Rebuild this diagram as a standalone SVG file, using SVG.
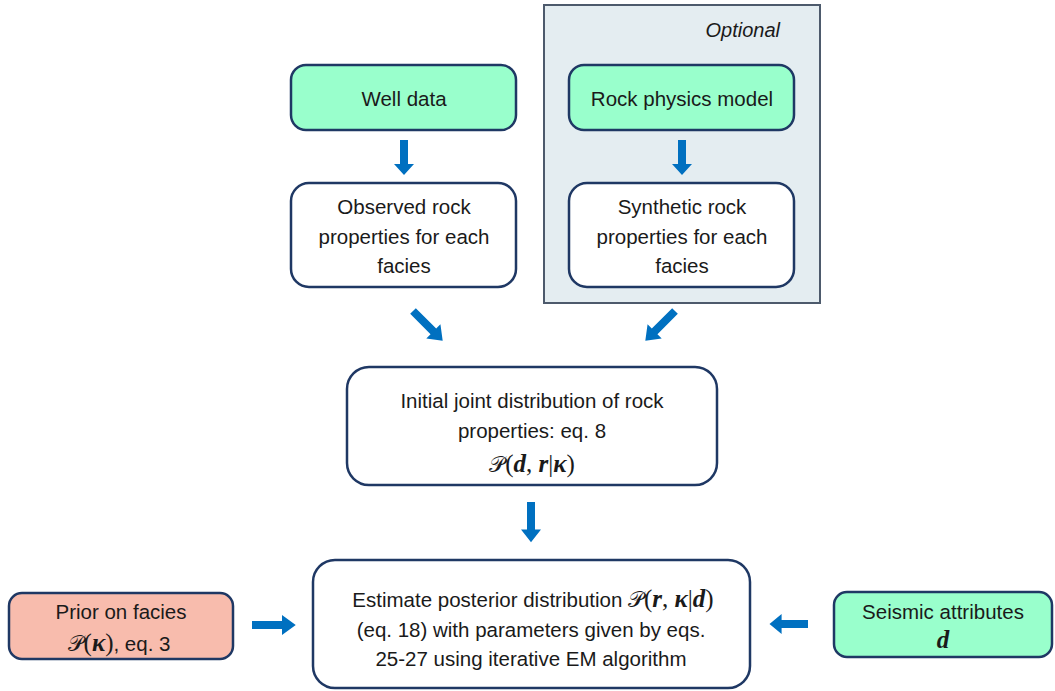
<svg xmlns="http://www.w3.org/2000/svg" width="1055" height="691" viewBox="0 0 1055 691">
<defs>
<style>
.box{stroke:#1f3864;stroke-width:2.5}
.green{fill:#99ffcc}
.white{fill:#ffffff}
.pink{fill:#f8bcad}
.t{font-family:"Liberation Sans",Arial,sans-serif;font-size:20.5px;fill:#1a1a1a;text-anchor:middle}
.m{font-family:"Liberation Serif","Times New Roman",serif;font-weight:bold;font-style:italic;font-size:25px}
.p{font-family:"Liberation Serif","Times New Roman",serif;font-size:25px}
.s{font-family:"DejaVu Serif","Noto Sans",serif;font-size:22px}
.arr{fill:#0070c0}
</style>
<path id="down" d="M-4,0 H4 V24 H10 L0,35 L-10,24 H-4 Z"/>
</defs>
<rect width="1055" height="691" fill="#ffffff"/>
<g id="optional-panel">
<rect x="544" y="5" width="276" height="298" fill="#e4edf1" stroke="#4d5a6c" stroke-width="2"/>
<text x="780" y="37" font-family="Liberation Sans,Arial,sans-serif" font-size="20" font-style="italic" text-anchor="end" fill="#1a1a1a">Optional</text>
</g>
<g id="well-data">
<rect class="box green" x="291" y="65" width="225" height="65" rx="15"/>
<text class="t" x="404" y="106">Well data</text>
</g>
<g id="rock-physics-model">
<rect class="box green" x="569" y="65" width="225" height="65" rx="15"/>
<text class="t" x="682" y="106">Rock physics model</text>
</g>
<g id="observed">
<rect class="box white" x="291" y="183" width="225" height="104" rx="18"/>
<text class="t" x="404" y="214">Observed rock</text>
<text class="t" x="404" y="244">properties for each</text>
<text class="t" x="404" y="273">facies</text>
</g>
<g id="synthetic">
<rect class="box white" x="569" y="183" width="225" height="104" rx="18"/>
<text class="t" x="682" y="214">Synthetic rock</text>
<text class="t" x="682" y="244">properties for each</text>
<text class="t" x="682" y="273">facies</text>
</g>
<g id="initial-joint">
<rect class="box white" x="347" y="367" width="370" height="118" rx="22"/>
<text class="t" x="532" y="408">Initial joint distribution of rock</text>
<text class="t" x="532" y="438">properties: eq. 8</text>
<text class="t" x="532" y="472"><tspan class="s">𝒫</tspan><tspan class="p">(</tspan><tspan class="m">d</tspan><tspan class="p">, </tspan><tspan class="m">r</tspan><tspan class="p">|</tspan><tspan class="m">κ</tspan><tspan class="p">)</tspan></text>
</g>
<g id="estimate">
<rect class="box white" x="313" y="560" width="437" height="128" rx="22"/>
<text class="t" x="533" y="607">Estimate posterior distribution <tspan class="s">𝒫</tspan><tspan class="p">(</tspan><tspan class="m">r</tspan><tspan class="p">, </tspan><tspan class="m">κ</tspan><tspan class="p">|</tspan><tspan class="m">d</tspan><tspan class="p">)</tspan></text>
<text class="t" x="531" y="637">(eq. 18) with parameters given by eqs.</text>
<text class="t" x="531" y="666">25-27 using iterative EM algorithm</text>
</g>
<g id="prior">
<rect class="box pink" x="9" y="593" width="224" height="66" rx="13"/>
<text class="t" x="121" y="619">Prior on facies</text>
<text class="t" x="119" y="651"><tspan class="s">𝒫</tspan><tspan class="p">(</tspan><tspan class="m">κ</tspan><tspan class="p">)</tspan>, eq. 3</text>
</g>
<g id="seismic">
<rect class="box green" x="834" y="592" width="218" height="65" rx="13"/>
<text class="t" x="943" y="619">Seismic attributes</text>
<text class="t m" x="943" y="648">d</text>
</g>
<g id="connectors">
<use href="#down" class="arr" transform="translate(404,140)"/>
<use href="#down" class="arr" transform="translate(682,140)"/>
<use href="#down" class="arr" transform="translate(531,502) scale(1,1.15)"/>
<use href="#down" class="arr" transform="translate(413,311) rotate(-45) scale(1,1.2)"/>
<use href="#down" class="arr" transform="translate(675,311) rotate(45) scale(1,1.2)"/>
<use href="#down" class="arr" transform="translate(252,625) rotate(-90) scale(1,1.25)"/>
<use href="#down" class="arr" transform="translate(808,624) rotate(90) scale(1,1.1)"/>
</g>
</svg>
